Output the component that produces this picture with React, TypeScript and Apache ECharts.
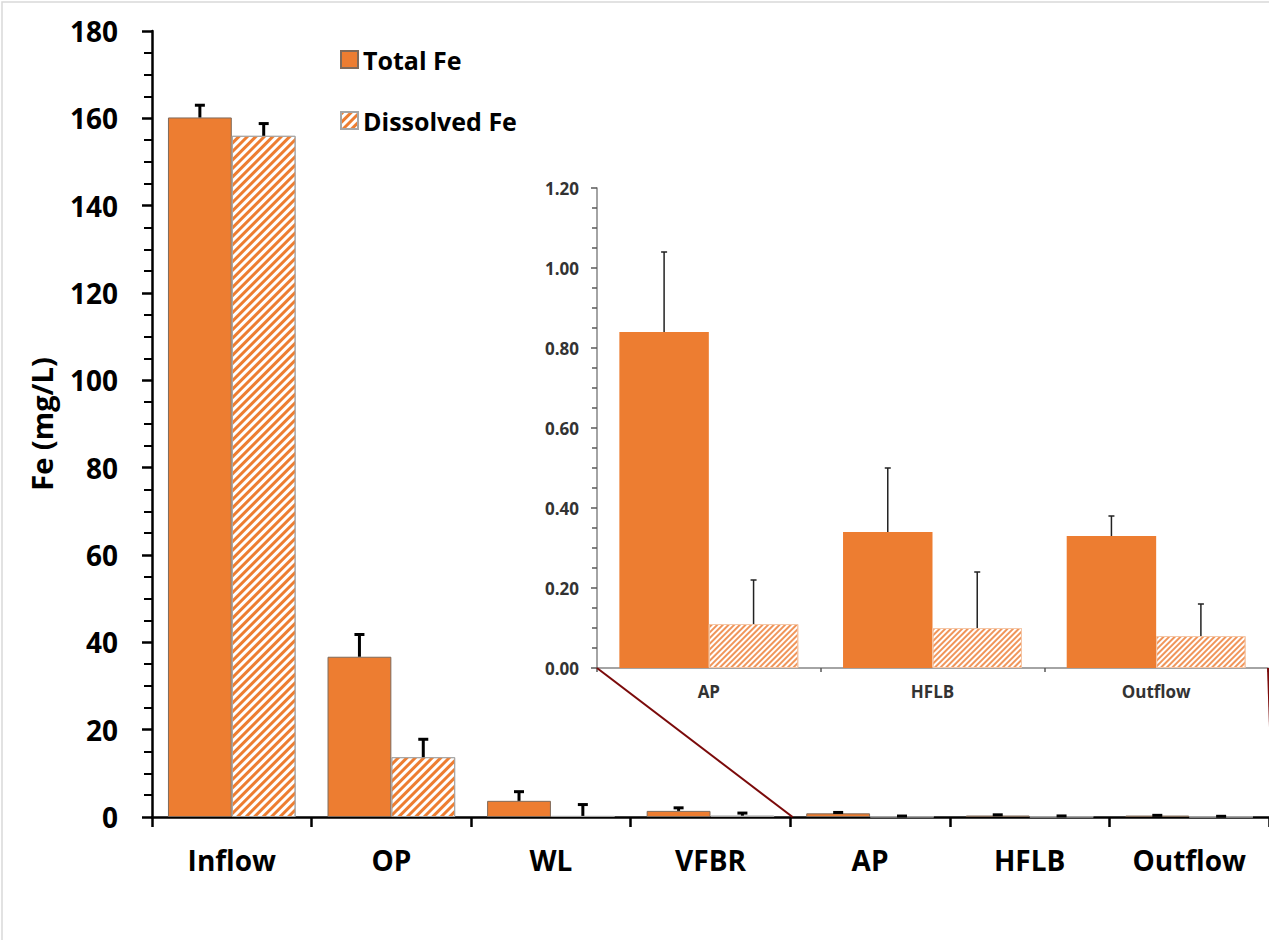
import React, { useEffect, useRef } from "react";
import * as echarts from "echarts";

const categories = ["Inflow", "OP", "WL", "VFBR", "AP", "HFLB", "Outflow"];
const totalFe = [160.2, 36.7, 3.7, 1.4, 0.84, 0.34, 0.33];
const totalFeSd = [2.8, 5.1, 2.1, 0.7, 0.2, 0.16, 0.05];
const dissolvedFe = [156.0, 13.7, 0.25, 0.3, 0.11, 0.1, 0.08];
const dissolvedFeSd = [2.8, 4.1, 2.6, 0.6, 0.11, 0.14, 0.08];
const insetStart = 4; // AP, HFLB, Outflow shown in the inset
const mainTicks = { min: 0, max: 180, interval: 20 };
const insetTicks = { min: 0, max: 1.2, interval: 0.2 };

const ORANGE = "#ED7D31";
const FONT = "Open Sans";

const M = { left: 152, top: 31, width: 1121, height: 786 };
const I = { left: 597, top: 188, width: 671, height: 480 };

function errSeries(name: string, xIdx: number, yIdx: number, cats: number[], vals: number[], sds: number[], side: number, lw: number, cap: number, color: string) {
  return {
    type: "custom",
    name,
    xAxisIndex: xIdx,
    yAxisIndex: yIdx,
    z: 10,
    silent: true,
    data: cats.map((c, i) => [c, vals[i], vals[i] + sds[i]]),
    renderItem: (params: any, api: any) => {
      const idx = api.value(0);
      const v = api.value(1);
      const top = api.value(2);
      const bw = api.size([1, 0])[0];
      const p0 = api.coord([idx, v]);
      const p1 = api.coord([idx, top]);
      const x = p0[0] + side * 0.2 * bw;
      return {
        type: "group",
        children: [
          { type: "line", shape: { x1: x, y1: p0[1], x2: x, y2: p1[1] }, style: { stroke: color, lineWidth: lw } },
          { type: "line", shape: { x1: x - cap, y1: p1[1], x2: x + cap, y2: p1[1] }, style: { stroke: color, lineWidth: lw } },
        ],
      };
    },
  };
}

export default function App() {
  const ref = useRef<HTMLDivElement>(null);
  useEffect(() => {
    const chart = echarts.init(ref.current!, null, { renderer: "svg" });
    const insetCats = categories.slice(insetStart);
    const idxMain = categories.map((_, i) => i);
    const idxInset = insetCats.map((_, i) => i);
    const catW = M.width / categories.length;
    const hatchMain = { symbol: "rect", symbolSize: 1, dashArrayX: [1, 0], dashArrayY: [2.8, 2.8], rotation: -Math.PI / 4, color: ORANGE };
    const hatchInset = { symbol: "rect", symbolSize: 1, dashArrayX: [1, 0], dashArrayY: [1.5, 2], rotation: -Math.PI / 4, color: "#F0955A" };

    chart.setOption({
      animation: false,
      backgroundColor: "#ffffff",
      textStyle: { fontFamily: FONT },
      legend: {
        data: ["Total Fe", "Dissolved Fe"],
        orient: "vertical",
        icon: "rect",
        left: 335,
        top: 42,
        itemWidth: 17,
        itemHeight: 17,
        itemGap: 36,
        textStyle: { fontSize: 25, fontWeight: "bold", color: "#000", fontFamily: FONT },
      },
      grid: [
        { left: M.left, top: M.top, width: M.width, height: M.height, containLabel: false },
        { left: I.left, top: I.top, width: I.width, height: I.height, containLabel: false },
      ],
      xAxis: [
        {
          type: "category",
          gridIndex: 0,
          data: categories,
          axisLine: { lineStyle: { color: "#000", width: 2.5 } },
          axisTick: { show: true, length: 10, lineStyle: { color: "#000", width: 2.5 } },
          axisLabel: { fontSize: 28, fontWeight: "bold", color: "#000", margin: 29, fontFamily: FONT },
        },
        {
          type: "category",
          gridIndex: 1,
          data: insetCats,
          axisLine: { lineStyle: { color: "#868686", width: 1.5 } },
          axisTick: { show: true, length: 4, lineStyle: { color: "#595959", width: 1.5 } },
          axisLabel: { fontSize: 17, fontWeight: "bold", color: "#333", margin: 15, fontFamily: FONT },
        },
      ],
      yAxis: [
        {
          type: "value",
          gridIndex: 0,
          ...mainTicks,
          axisLine: { show: true, lineStyle: { color: "#000", width: 2.5 } },
          axisTick: { show: true, length: 10, lineStyle: { color: "#000", width: 2.5 } },
          minorTick: { show: true, splitNumber: 4, length: 8, lineStyle: { color: "#000", width: 2 } },
          splitLine: { show: false },
          axisLabel: { fontSize: 28, fontWeight: "bold", color: "#000", margin: 34, fontFamily: FONT },
        },
        {
          type: "value",
          gridIndex: 1,
          ...insetTicks,
          axisLine: { show: true, lineStyle: { color: "#868686", width: 1.5 } },
          axisTick: { show: true, length: 6, lineStyle: { color: "#595959", width: 1.5 } },
          minorTick: { show: true, splitNumber: 4, length: 5, lineStyle: { color: "#595959", width: 1.5 } },
          splitLine: { show: false },
          axisLabel: { fontSize: 17, fontWeight: "bold", color: "#333", margin: 18, fontFamily: FONT, formatter: (v: number) => v.toFixed(2) },
        },
      ],
      series: [
        {
          type: "bar",
          name: "Total Fe",
          xAxisIndex: 0,
          yAxisIndex: 0,
          data: totalFe,
          barGap: "0%",
          barCategoryGap: "20%",
          itemStyle: { color: ORANGE, borderColor: "#7f6a5a", borderWidth: 1 },
        },
        {
          type: "bar",
          name: "Dissolved Fe",
          xAxisIndex: 0,
          yAxisIndex: 0,
          data: dissolvedFe,
          barGap: "0%",
          barCategoryGap: "20%",
          itemStyle: { color: "#ffffff", borderColor: "#a6a6a6", borderWidth: 1, decal: hatchMain },
        },
        errSeries("errTotal", 0, 0, idxMain, totalFe, totalFeSd, -1, 3, 5, "#000"),
        errSeries("errDiss", 0, 0, idxMain, dissolvedFe, dissolvedFeSd, 1, 3, 5, "#000"),
        {
          type: "bar",
          name: "Total Fe (inset)",
          xAxisIndex: 1,
          yAxisIndex: 1,
          data: totalFe.slice(insetStart),
          barGap: "0%",
          barCategoryGap: "20%",
          itemStyle: { color: ORANGE },
        },
        {
          type: "bar",
          name: "Dissolved Fe (inset)",
          xAxisIndex: 1,
          yAxisIndex: 1,
          data: dissolvedFe.slice(insetStart),
          barGap: "0%",
          barCategoryGap: "20%",
          itemStyle: { color: "#ffffff", borderColor: "#f4c7a8", borderWidth: 1, decal: hatchInset },
        },
        errSeries("errTotalI", 1, 1, idxInset, totalFe.slice(insetStart), totalFeSd.slice(insetStart), -1, 1.5, 3, "#222"),
        errSeries("errDissI", 1, 1, idxInset, dissolvedFe.slice(insetStart), dissolvedFeSd.slice(insetStart), 1, 1.5, 3, "#222"),
      ],
      graphic: [
        { type: "rect", silent: true, shape: { x: 2, y: 2, width: 1400, height: 1000 }, style: { fill: "none", stroke: "#d9d9d9", lineWidth: 1.5 } },
        {
          type: "text",
          x: 41,
          y: 424,
          rotation: Math.PI / 2,
          style: { text: "Fe (mg/L)", font: `bold 29px '${FONT}'`, fill: "#000", textAlign: "center", textVerticalAlign: "middle" },
        },
        {
          type: "line",
          z: 20,
          shape: { x1: I.left, y1: I.top + I.height, x2: M.left + insetStart * catW, y2: M.top + M.height },
          style: { stroke: "#7B0A0A", lineWidth: 2 },
        },
        {
          type: "line",
          z: 20,
          shape: { x1: I.left + I.width, y1: I.top + I.height, x2: M.left + M.width, y2: M.top + M.height },
          style: { stroke: "#7B0A0A", lineWidth: 2 },
        },
      ],
    });
    return () => chart.dispose();
  }, []);
  return <div ref={ref} style={{ position: "absolute", left: 0, top: 0, width: 1269, height: 940 }} />;
}
